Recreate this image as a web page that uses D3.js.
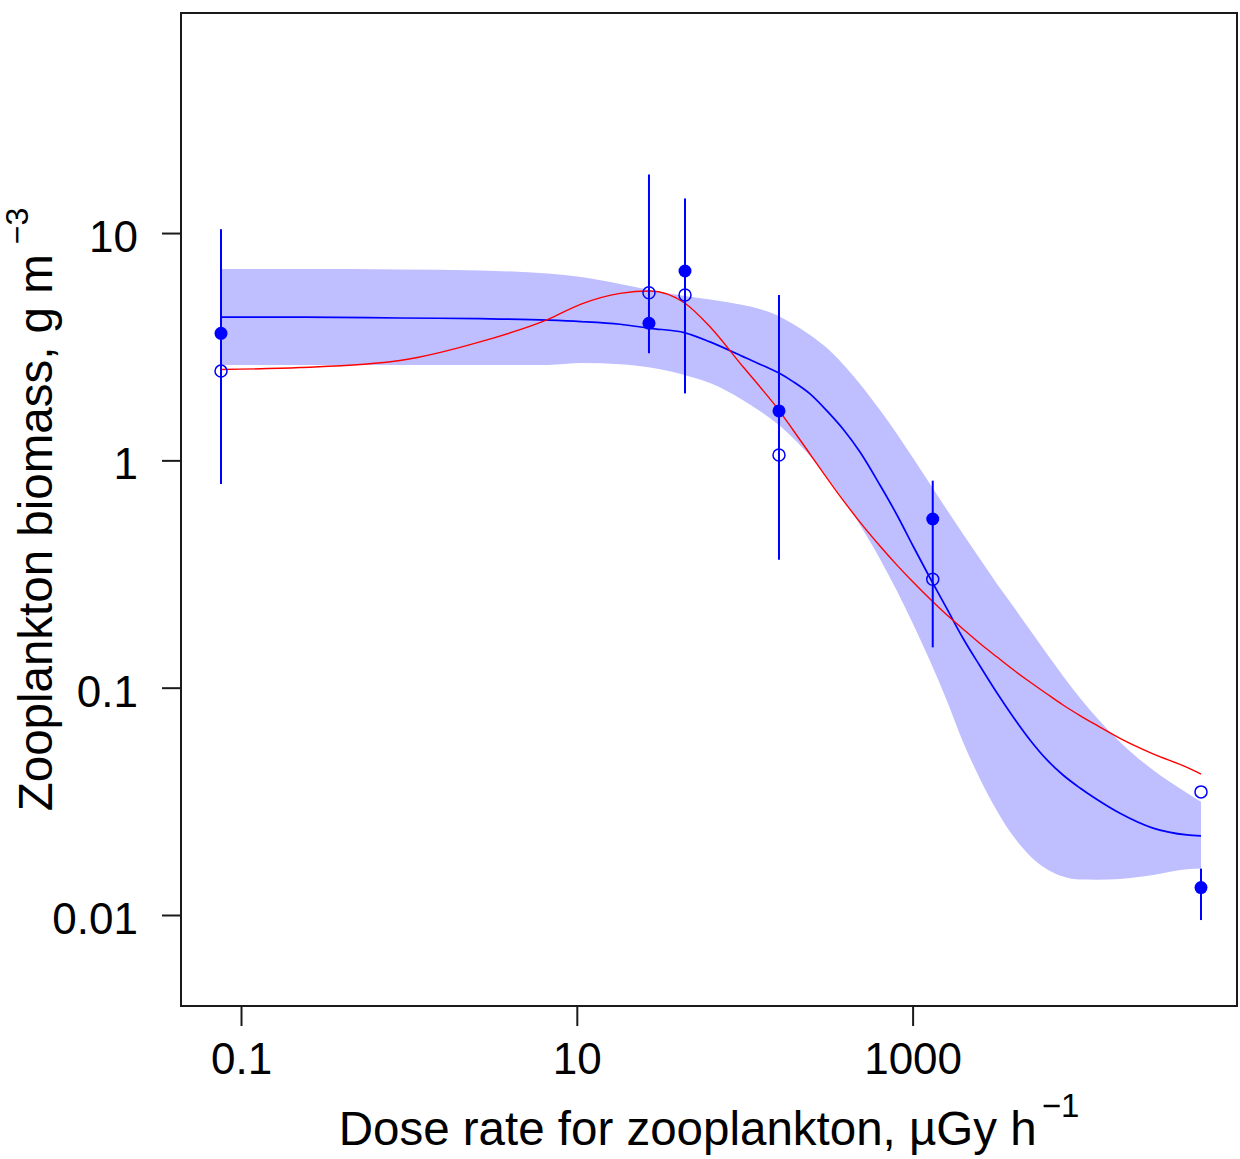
<!DOCTYPE html>
<html><head><meta charset="utf-8">
<script src="https://cdn.jsdelivr.net/npm/d3@7"></script>
<style>body{margin:0;background:#fff}</style>
</head><body>
<svg id="chart" width="1240" height="1159"></svg>
<script>
// Grid of dose rates (µGy/h) for the fitted curves
const doseGrid = [0.076, 0.225, 0.885, 2.65, 6.74, 10.6, 18.1, 27.3, 44.1, 62.1, 97.7, 123, 160, 194, 245, 309, 385, 486, 639, 807, 1006, 1270, 1603, 1996, 2520, 3183, 3963, 5003, 6318, 7866, 9931, 12540, 17190, 27030, 43090, 52200];
// Blue fitted dose-response curve
const fitBiomass = [4.27, 4.27, 4.23, 4.20, 4.14, 4.08, 3.97, 3.81, 3.64, 3.32, 2.86, 2.65, 2.42, 2.22, 1.96, 1.65, 1.373, 1.088, 0.779, 0.575, 0.420, 0.3037, 0.222, 0.165, 0.1245, 0.0947, 0.0745, 0.0589, 0.0481, 0.0413, 0.0362, 0.0322, 0.0280, 0.0241, 0.0225, 0.0223];
// Red smooth curve
const smoothBiomass = [2.51, 2.56, 2.75, 3.32, 4.17, 4.87, 5.43, 5.56, 4.91, 3.87, 2.58, 2.11, 1.66, 1.36, 1.066, 0.836, 0.669, 0.535, 0.420, 0.346, 0.2915, 0.2455, 0.2088, 0.1812, 0.1564, 0.1364, 0.1202, 0.1059, 0.0938, 0.0839, 0.0754, 0.0682, 0.0598, 0.0511, 0.0446, 0.0417];
// Confidence band
const bandUpper = [6.94, 6.94, 6.91, 6.84, 6.63, 6.40, 5.97, 5.61, 5.28, 5.10, 4.82, 4.63, 4.31, 3.98, 3.56, 3.12, 2.65, 2.17, 1.665, 1.306, 1.024, 0.787, 0.605, 0.474, 0.368, 0.286, 0.2287, 0.1793, 0.1406, 0.1125, 0.0901, 0.0735, 0.0577, 0.0434, 0.0344, 0.0315];
const bandLower = [2.63, 2.63, 2.63, 2.63, 2.63, 2.68, 2.65, 2.56, 2.37, 2.19, 1.84, 1.65, 1.43, 1.254, 1.045, 0.845, 0.676, 0.519, 0.368, 0.266, 0.1905, 0.1310, 0.0874, 0.0577, 0.0397, 0.0287, 0.0223, 0.0182, 0.0159, 0.01477, 0.01432, 0.0143, 0.0144, 0.0150, 0.0159, 0.0160];
// Observations
const pointDose = [0.076, 26.9, 44.1, 160, 1318, 52200];
const filledBiomass = [3.62, 4.01, 6.81, 1.65, 0.552, 0.0132];
const openBiomass = [2.47, 5.46, 5.34, 1.055, 0.300, 0.0348];
const errLow = [0.787, 2.96, 1.97, 0.365, 0.1505, 0.0095];
const errHigh = [10.4, 18.1, 14.2, 5.34, 0.814, 0.0160];
// Axes
const xTicks = [0.1, 10, 1000];
const xTickLabels = ["0.1", "10", "1000"];
const yTicks = [0.01, 0.1, 1, 10];
const yTickLabels = ["0.01", "0.1", "1", "10"];
const xTitle = "Dose rate for zooplankton, µGy h";
const xTitleSup = "\u22121";
const yTitle = "Zooplankton biomass, g m";
const yTitleSup = "\u22123";

const FONT = "'Liberation Sans', Arial, Helvetica, sans-serif";
const L = 181, R = 1237, T = 13, B = 1006;
const svg = d3.select('#chart');

const x = d3.scaleLog().domain([0.04391, 85520]).range([L, R]);
const y = d3.scaleLog().domain([0.003978, 92.9]).range([B, T]);

svg.append('defs').append('clipPath').attr('id', 'clip')
  .append('rect').attr('x', L).attr('y', T).attr('width', R - L).attr('height', B - T);
const g = svg.append('g').attr('clip-path', 'url(#clip)');

const idx = d3.range(doseGrid.length);
g.append('path')
  .attr('d', d3.area().x(i => x(doseGrid[i])).y0(i => y(bandLower[i])).y1(i => y(bandUpper[i])).curve(d3.curveMonotoneX)(idx))
  .attr('fill', '#bfbfff').attr('stroke', 'none');

g.append('path')
  .attr('d', d3.line().x(i => x(doseGrid[i])).y(i => y(fitBiomass[i])).curve(d3.curveMonotoneX)(idx))
  .attr('fill', 'none').attr('stroke', '#0000ff').attr('stroke-width', 1.7);

g.append('path')
  .attr('d', d3.line().x(i => x(doseGrid[i])).y(i => y(smoothBiomass[i])).curve(d3.curveMonotoneX)(idx))
  .attr('fill', 'none').attr('stroke', '#ff0000').attr('stroke-width', 1.4);

const pidx = d3.range(pointDose.length);
g.selectAll('.err').data(pidx).join('line')
  .attr('x1', i => x(pointDose[i])).attr('x2', i => x(pointDose[i]))
  .attr('y1', i => y(errLow[i])).attr('y2', i => y(errHigh[i]))
  .attr('stroke', '#0000ff').attr('stroke-width', 2);

g.selectAll('.open').data(pidx).join('circle')
  .attr('cx', i => x(pointDose[i])).attr('cy', i => y(openBiomass[i])).attr('r', 6)
  .attr('fill', 'none').attr('stroke', '#0000ff').attr('stroke-width', 1.5);

g.selectAll('.filled').data(pidx).join('circle')
  .attr('cx', i => x(pointDose[i])).attr('cy', i => y(filledBiomass[i])).attr('r', 6.5)
  .attr('fill', '#0000ff').attr('stroke', 'none');

// Frame
svg.append('rect').attr('x', L).attr('y', T).attr('width', R - L).attr('height', B - T)
  .attr('fill', 'none').attr('stroke', '#1a1a1a').attr('stroke-width', 2);

// Axes
const xAxis = d3.axisBottom(x).tickValues(xTicks).tickFormat((d, i) => xTickLabels[i]).tickSize(20).tickPadding(17);
const gx = svg.append('g').attr('transform', `translate(0,${B})`).call(xAxis);
const yAxis = d3.axisLeft(y).tickValues(yTicks).tickFormat((d, i) => yTickLabels[i]).tickSize(19).tickPadding(24);
const gy = svg.append('g').attr('transform', `translate(${L},0)`).call(yAxis);
[gx, gy].forEach(a => {
  a.select('.domain').remove();
  a.selectAll('.tick line').attr('stroke', '#1a1a1a').attr('stroke-width', 2);
  a.selectAll('.tick text').attr('font-family', FONT).attr('font-size', 44).attr('fill', '#000');
});
gy.selectAll('.tick text').attr('dy', '0.42em');

// Titles
const xt = svg.append('text').attr('x', (L + R) / 2).attr('y', 1145)
  .attr('text-anchor', 'middle').attr('font-family', FONT).attr('font-size', 47.5).attr('fill', '#000');
xt.append('tspan').text(xTitle);
xt.append('tspan').attr('dx', 5).attr('dy', -28).attr('font-size', 33).text(xTitleSup);

const yt = svg.append('text').attr('transform', `translate(52,${(T + B) / 2}) rotate(-90)`)
  .attr('text-anchor', 'middle').attr('font-family', FONT).attr('font-size', 47.5).attr('fill', '#000');
yt.append('tspan').text(yTitle);
yt.append('tspan').attr('dx', 10).attr('dy', -24).attr('font-size', 32).text(yTitleSup);
</script>
</body></html>
